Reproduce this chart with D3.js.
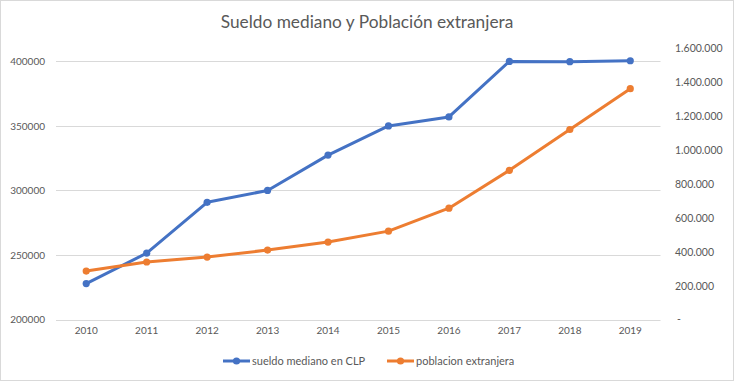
<!DOCTYPE html>
<html>
<head>
<meta charset="utf-8">
<script src="https://cdn.jsdelivr.net/npm/d3@7"></script>
<style>
  html, body { margin: 0; padding: 0; background: #fff; }
  svg { display: block; }
  text { font-family: Lato, "Open Sans", sans-serif; fill: #595959; }
</style>
</head>
<body>
<svg id="chart" width="737" height="383"></svg>
<script>
const years = ["2010","2011","2012","2013","2014","2015","2016","2017","2018","2019"];
const sueldo = [227800, 251400, 290800, 300000, 327400, 350000, 357000, 400000, 399800, 400500];
const poblacion = [286000, 339400, 368800, 410000, 457000, 521700, 657000, 880500, 1121700, 1363000];
const leftTicks = [200000, 250000, 300000, 350000, 400000];
const rightTicks = [0, 200000, 400000, 600000, 800000, 1000000, 1200000, 1400000, 1600000];
const title = "Sueldo mediano y Población extranjera";
const seriesNames = ["sueldo mediano en CLP", "poblacion extranjera"];

const svg = d3.select("#chart");
const W = 737, H = 383;
const plot = {left: 56, right: 660.5, top: 48.5, bottom: 319.5};

// chart border
svg.append("rect").attr("x", 0.5).attr("y", 0.5).attr("width", W - 4).attr("height", H - 3)
  .attr("fill", "#fff").attr("stroke", "#d9d9d9").attr("stroke-width", 1);

const x = d3.scaleBand().domain(years).range([plot.left, plot.right]);
const yL = d3.scaleLinear().domain([200000, 410000]).range([plot.bottom, plot.top]);
const yR = d3.scaleLinear().domain([0, 1600000]).range([plot.bottom, plot.top]);

// gridlines
svg.append("g").selectAll("line").data(leftTicks).join("line")
  .attr("x1", plot.left).attr("x2", plot.right)
  .attr("y1", d => Math.round(yL(d)) + 0.5).attr("y2", d => Math.round(yL(d)) + 0.5)
  .attr("stroke", "#d9d9d9").attr("stroke-width", 1);

// left axis
const gL = svg.append("g").attr("transform", `translate(${plot.left - 11},0)`)
  .call(d3.axisLeft(yL).tickValues(leftTicks).tickSize(0).tickPadding(0).tickFormat(d3.format("d")));
gL.select(".domain").remove();
gL.selectAll("text").style("font-size", "10px").attr("fill", "#595959");

// right axis
const fmtR = d => d === 0 ? "-" : d3.format(",")(d).replace(/,/g, ".");
const gR = svg.append("g").attr("transform", `translate(${plot.left + 619},0)`)
  .call(d3.axisRight(yR).tickValues(rightTicks).tickSize(0).tickPadding(0).tickFormat(fmtR));
gR.select(".domain").remove();
gR.selectAll("text").style("font-size", "10.5px").attr("fill", "#595959");
gR.selectAll(".tick").filter(d => d === 0).select("text").attr("dx", 2);

// bottom axis
const gX = svg.append("g").attr("transform", `translate(0,${plot.bottom + 7})`)
  .call(d3.axisBottom(x).tickSize(0).tickPadding(0));
gX.select(".domain").remove();
gX.selectAll("text").style("font-size", "10px").attr("fill", "#595959");

const cx = d => x(d) + x.bandwidth() / 2;

function drawSeries(vals, yScale, color) {
  const line = d3.line().x((d, i) => cx(years[i])).y(d => yScale(d));
  svg.append("path").datum(vals).attr("d", line)
    .attr("fill", "none").attr("stroke", color).attr("stroke-width", 3)
    .attr("stroke-linejoin", "round").attr("stroke-linecap", "round");
  svg.append("g").selectAll("circle").data(vals).join("circle")
    .attr("cx", (d, i) => cx(years[i])).attr("cy", d => yScale(d))
    .attr("r", 3.6).attr("fill", color);
}
drawSeries(sueldo, yL, "#4472C4");
drawSeries(poblacion, yR, "#ED7D31");

// title
svg.append("text").attr("x", 367).attr("y", 28).attr("text-anchor", "middle")
  .style("font-size", "17.3px").text(title);

// legend
const legend = [
  {name: seriesNames[0], color: "#4472C4", x: 223},
  {name: seriesNames[1], color: "#ED7D31", x: 387}
];
const lg = svg.append("g");
legend.forEach(l => {
  lg.append("line").attr("x1", l.x).attr("x2", l.x + 27).attr("y1", 361).attr("y2", 361)
    .attr("stroke", l.color).attr("stroke-width", 3);
  lg.append("circle").attr("cx", l.x + 13.5).attr("cy", 361).attr("r", 3.6).attr("fill", l.color);
  lg.append("text").attr("x", l.x + 29).attr("y", 364.8).style("font-size", "11px").text(l.name);
});
</script>
</body>
</html>
